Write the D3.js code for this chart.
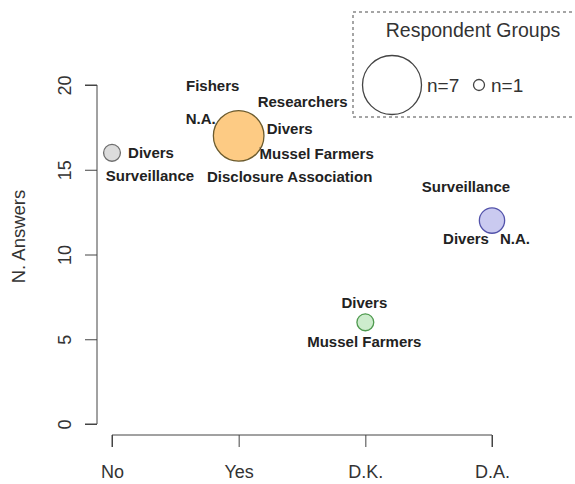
<!DOCTYPE html>
<html>
<head>
<meta charset="utf-8">
<script src="https://cdn.jsdelivr.net/npm/d3@7"></script>
<style>
  html, body { margin: 0; padding: 0; background: #fff; }
  svg { display: block; font-family: "Liberation Sans", Arial, sans-serif; }
</style>
</head>
<body>
<svg id="chart" width="575" height="484"></svg>
<script>
// ---- data ----
const categories = ["No", "Yes", "D.K.", "D.A."];
const answers = [16, 17, 6, 12];
const groupsNo = ["Divers", "Surveillance"];
const groupsYes = ["Fishers", "Researchers", "N.A.", "Divers", "Mussel Farmers", "Disclosure Association"];
const groupsDK = ["Divers", "Mussel Farmers"];
const groupsDA = ["Surveillance", "Divers", "N.A."];
const groupLists = [groupsNo, groupsYes, groupsDK, groupsDA];
const yTicks = [0, 5, 10, 15, 20];
const legendSizes = [7, 1];
const legendTitle = "Respondent Groups";
const yTitle = "N. Answers";

// ---- layout / styles (not data) ----
const fills = ["#dcdcdc", "#fdcb84", "#cdeccd", "#cacaf0"];
const strokes = ["#6e6e6e", "#6b5b2e", "#4f9a4f", "#5252aa"];
// label offsets (px) relative to the point centre, per category, in group order
const labelOffsets = [
  [[39, 0], [38, 23]],
  [[-26, -50], [64, -34], [-38, -17], [51, -7], [78, 18], [51, 41]],
  [[-1, -19], [-1, 20]],
  [[-26, -34], [-26, 18], [23, 18]]
];
const leaders = { "1-2": true, "1-4": true, "3-1": true };

const svg = d3.select("#chart");

const x = d3.scalePoint().domain(categories).range([112, 492]);
const y = d3.scaleLinear().domain([0, 20]).range([424, 85]);
const r = d3.scaleLinear().domain([0, 7]).range([0, 29.5]);

// ---- y axis ----
const yAxis = d3.axisLeft(y).tickValues(yTicks).tickSize(12).tickFormat(d3.format("d"));
const gy = svg.append("g").attr("transform", "translate(97,0)").call(yAxis);
gy.select(".domain").attr("stroke", "#444").attr("d", `M-12,${y(0)}H0V${y(20)}H-12`);
gy.selectAll(".tick line").attr("stroke", "#444");
gy.selectAll(".tick text")
  .attr("font-size", 18).attr("fill", "#333")
  .attr("x", null).attr("dy", null)
  .attr("text-anchor", "middle")
  .attr("transform", "translate(-26,0) rotate(-90)");

svg.append("text")
  .attr("transform", `translate(25,${(y(0) + y(20)) / 2 - 18}) rotate(-90)`)
  .attr("text-anchor", "middle")
  .attr("font-size", 18.5).attr("fill", "#333")
  .text(yTitle);

// ---- x axis ----
const xAxis = d3.axisBottom(x).tickSize(12).tickPadding(18);
const gx = svg.append("g").attr("transform", "translate(0,435)").call(xAxis);
gx.select(".domain").attr("stroke", "#444").attr("d", `M${x("No")},12V0H${x("D.A.")}V12`);
gx.selectAll(".tick line").attr("stroke", "#444");
gx.selectAll(".tick text").attr("font-size", 18).attr("fill", "#333");

// ---- bubbles ----
const pts = categories.map((c, i) => ({ c, i, v: answers[i], groups: groupLists[i] }));

svg.append("g").selectAll("circle").data(pts).join("circle")
  .attr("cx", d => x(d.c))
  .attr("cy", d => y(d.v))
  .attr("r", d => r(d.groups.length))
  .attr("fill", d => fills[d.i])
  .attr("stroke", d => strokes[d.i])
  .attr("stroke-width", 1.3);

// ---- labels ----
const lab = svg.append("g");
pts.forEach(p => {
  const cx = x(p.c), cy = y(p.v), rad = r(p.groups.length);
  p.groups.forEach((g, j) => {
    const [dx, dy] = labelOffsets[p.i][j];
    const t = lab.append("text")
      .attr("x", cx + dx).attr("y", cy + dy + 5)
      .attr("text-anchor", "middle")
      .attr("font-size", 15).attr("font-weight", "bold")
      .attr("fill", "#222")
      .text(g);
    if (leaders[p.i + "-" + j]) {
      const bb = t.node().getBBox();
      const lx = Math.max(bb.x, Math.min(cx, bb.x + bb.width));
      const ly = Math.max(bb.y + 3, Math.min(cy, bb.y + bb.height - 3));
      const ang = Math.atan2(ly - cy, lx - cx);
      lab.append("line")
        .attr("x1", lx).attr("y1", ly)
        .attr("x2", cx + rad * Math.cos(ang)).attr("y2", cy + rad * Math.sin(ang))
        .attr("stroke", "#333").attr("stroke-width", 1);
    }
  });
});

// ---- legend ----
const leg = svg.append("g");
leg.append("rect")
  .attr("x", 353).attr("y", 12).attr("width", 240).attr("height", 105)
  .attr("fill", "none").attr("stroke", "#888").attr("stroke-width", 1.5)
  .attr("stroke-dasharray", "3,3");
leg.append("text")
  .attr("x", 473).attr("y", 37).attr("text-anchor", "middle")
  .attr("font-size", 19.5).attr("fill", "#333")
  .text(legendTitle);
const legX = [392, 479];
const legTextX = [427, 491];
legendSizes.forEach((n, k) => {
  leg.append("circle")
    .attr("cx", legX[k]).attr("cy", 85).attr("r", Math.max(r(n), 5.5))
    .attr("fill", "#fff").attr("stroke", "#444").attr("stroke-width", 1.3);
  leg.append("text")
    .attr("x", legTextX[k]).attr("y", 92)
    .attr("font-size", 19).attr("fill", "#333")
    .text("n=" + n);
});
</script>
</body>
</html>
